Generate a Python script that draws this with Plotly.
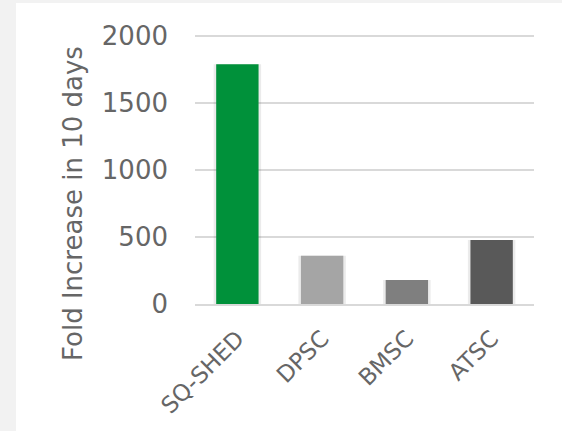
import plotly.graph_objects as go

# Cell types and their fold increase over 10 days
cell_types = ["SQ-SHED", "DPSC", "BMSC", "ATSC"]
fold_increase = [1790, 360, 180, 478]
bar_colors = ["#00913a", "#a5a5a5", "#7f7f7f", "#595959"]
y_ticks = [0, 500, 1000, 1500, 2000]

W, H = 562, 431
ML, MR, MT, MB = 195, 28, 35, 127
pw, ph = W - ML - MR, H - MT - MB

def px_x(x):
    return (x - ML) / pw

def px_y(y):
    return (H - MB - y) / ph

text_color = "#666666"
font_family = "DejaVu Sans, Verdana, sans-serif"

fig = go.Figure()

# soft drop shadow behind each bar
fig.add_trace(go.Bar(
    x=cell_types, y=fold_increase,
    marker=dict(color="rgba(0,0,0,0.08)", line=dict(width=0)),
    width=0.56, hoverinfo="skip", showlegend=False,
))
fig.add_trace(go.Bar(
    x=cell_types, y=fold_increase,
    marker=dict(color=bar_colors, line=dict(width=0)),
    width=0.5, showlegend=False,
))

fig.update_layout(
    width=W, height=H,
    margin=dict(l=ML, r=MR, t=MT, b=MB, pad=0),
    paper_bgcolor="white", plot_bgcolor="white",
    barmode="overlay",
    font=dict(family=font_family, color=text_color, size=24),
    xaxis=dict(
        tickangle=-45, showgrid=False, zeroline=False,
        showline=True, linecolor="#d9d9d9", linewidth=2,
        ticks="", tickfont=dict(size=23), ticklabelstandoff=10,
    ),
    yaxis=dict(
        range=[0, 2008], tickvals=y_ticks,
        showgrid=True, gridcolor="#d9d9d9", gridwidth=1.5,
        zeroline=False, showline=False, ticks="",
        ticklabelstandoff=26, tickfont=dict(size=26),
    ),
    shapes=[
        # light gray frame on the left and top edge of the canvas
        dict(type="rect", xref="paper", yref="paper",
             x0=px_x(0), x1=px_x(16), y0=px_y(H), y1=px_y(0),
             fillcolor="#f2f2f2", line=dict(width=0), layer="below"),
        dict(type="rect", xref="paper", yref="paper",
             x0=px_x(0), x1=px_x(W), y0=px_y(3), y1=px_y(0),
             fillcolor="#f2f2f2", line=dict(width=0), layer="below"),
    ],
    annotations=[
        dict(text="Fold Increase in 10 days", textangle=-90,
             xref="paper", yref="paper", x=px_x(73), y=px_y(203),
             xanchor="center", yanchor="middle", showarrow=False,
             font=dict(size=26, color=text_color, family=font_family)),
    ],
)

fig.write_html("out.html")
